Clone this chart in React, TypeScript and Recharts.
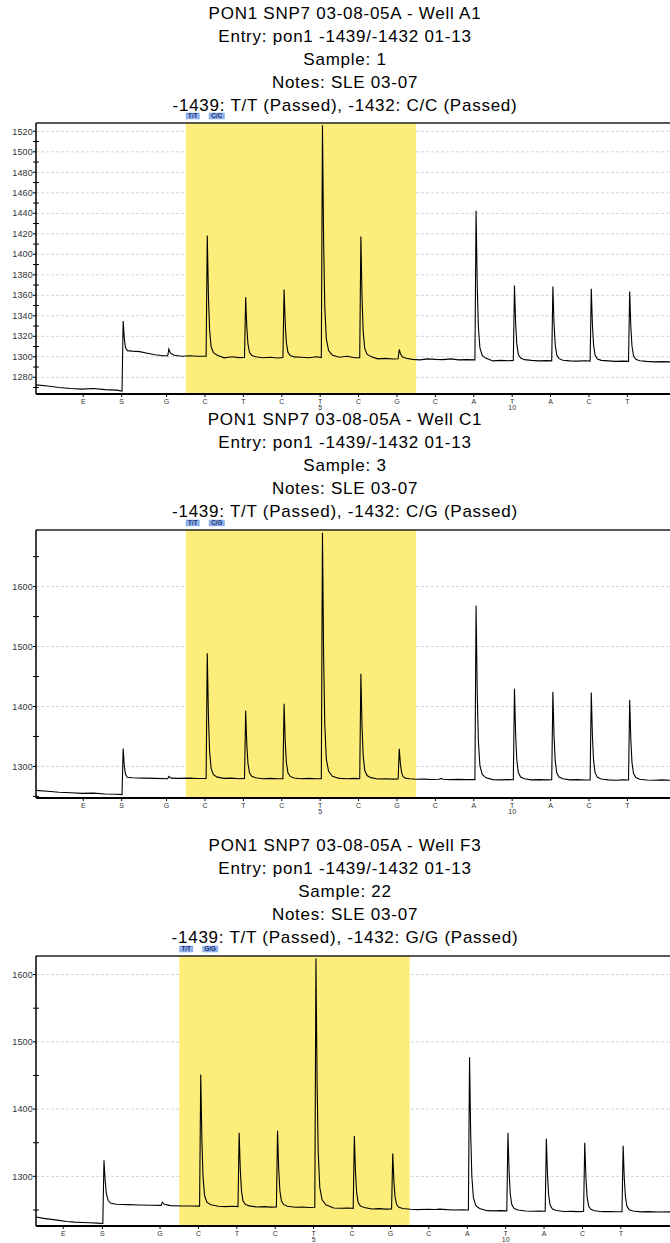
import React from 'react';
import { LineChart, Line, XAxis, YAxis, CartesianGrid, ReferenceArea, ReferenceLine } from 'recharts';

const FONT = '"Liberation Sans", Arial, Helvetica, sans-serif';
const YELLOW = '#fdee7c';

// dispensation order and numbering
const dispensations = ['E', 'S', 'G', 'C', 'T', 'C', 'T', 'C', 'G', 'C', 'A', 'T', 'A', 'C', 'T'];
const dispensationNumbers = ['', '', '', '', '', '', '5', '', '', '', '', '10', '', '', ''];

// dispensation times (x axis, in dispensation-slot units)
const ticksA = [1.23, 2.23, 3.4, 4.4, 5.4, 6.4, 7.4, 8.4, 9.4, 10.4, 11.4, 12.4, 13.4, 14.4, 15.4];
const ticksB = [0.71, 1.73, 3.23, 4.23, 5.23, 6.23, 7.23, 8.23, 9.23, 10.23, 11.23, 12.23, 13.23, 14.23, 15.23];

// titles
const titlesA1 = ['PON1 SNP7 03-08-05A - Well A1', 'Entry: pon1 -1439/-1432 01-13', 'Sample: 1', 'Notes: SLE 03-07', '-1439: T/T (Passed), -1432: C/C (Passed)'];
const titlesC1 = ['PON1 SNP7 03-08-05A - Well C1', 'Entry: pon1 -1439/-1432 01-13', 'Sample: 3', 'Notes: SLE 03-07', '-1439: T/T (Passed), -1432: C/G (Passed)'];
const titlesF3 = ['PON1 SNP7 03-08-05A - Well F3', 'Entry: pon1 -1439/-1432 01-13', 'Sample: 22', 'Notes: SLE 03-07', '-1439: T/T (Passed), -1432: G/G (Passed)'];

const tagsA1 = ['T/T', 'C/C'];
const tagsC1 = ['T/T', 'C/G'];
const tagsF3 = ['T/T', 'G/G'];

// y ticks
const majorA1 = [1280, 1300, 1320, 1340, 1360, 1380, 1400, 1420, 1440, 1460, 1480, 1500, 1520];
const minorA1 = [1270, 1290, 1310, 1330, 1350, 1370, 1390, 1410, 1430, 1450, 1470, 1490, 1510];
const majorC1 = [1300, 1400, 1500, 1600];
const minorC1 = [1250, 1350, 1450, 1550, 1650];
const majorF3 = [1300, 1400, 1500, 1600];
const minorF3 = [1250, 1350, 1450, 1550];

// traces [time, signal]
const traceA1 = [
  [0, 1272.6], [0.3, 1271.5], [0.6, 1270], [0.9, 1269], [1.2, 1268.5], [1.5, 1269], [1.8, 1268], [2.1, 1267.5],
  [2.24, 1266.5], [2.27, 1335], [2.3, 1318], [2.33, 1309], [2.38, 1306], [2.5, 1305.5], [2.7, 1305], [2.9, 1303.5],
  [3.1, 1302], [3.3, 1301], [3.43, 1301], [3.46, 1307.5], [3.5, 1303.5], [3.6, 1301.5], [3.8, 1300.5], [4.0, 1301],
  [4.2, 1300.5], [4.43, 1300.5], [4.46, 1418.4], [4.49, 1359.5], [4.52, 1326.5], [4.56, 1310], [4.62, 1304], [4.72, 1301.5],
  [4.9, 1299], [5.1, 1300], [5.3, 1299.2], [5.43, 1299.5], [5.46, 1358.2], [5.49, 1328.8], [5.52, 1312.4], [5.56, 1304.2],
  [5.62, 1301.3], [5.72, 1300.1], [5.9, 1299], [6.1, 1299.6], [6.3, 1298.8], [6.43, 1299.2], [6.46, 1365.7], [6.49, 1332.5],
  [6.52, 1313.8], [6.56, 1304.5], [6.62, 1301.2], [6.72, 1299.9], [6.9, 1299.5], [7.1, 1299], [7.3, 1300], [7.43, 1299.3],
  [7.46, 1525.9], [7.49, 1412.6], [7.52, 1349.2], [7.56, 1317.4], [7.62, 1306.1], [7.72, 1301.6], [7.9, 1299.5], [8.1, 1300.5],
  [8.3, 1299], [8.43, 1299], [8.46, 1417.4], [8.49, 1358.2], [8.52, 1325], [8.56, 1308.5], [8.62, 1302.6], [8.72, 1300.2],
  [8.9, 1298], [9.1, 1298.5], [9.3, 1297.8], [9.43, 1298], [9.46, 1307.1], [9.49, 1303], [9.54, 1300], [9.64, 1298.5],
  [9.8, 1297.5], [10.0, 1297], [10.2, 1298], [10.4, 1297.5], [10.6, 1297.2], [10.8, 1298], [11.0, 1297], [11.2, 1297.2],
  [11.43, 1297], [11.46, 1442.5], [11.49, 1369.8], [11.52, 1329], [11.56, 1308.6], [11.62, 1301.4], [11.72, 1298.5], [11.9, 1296],
  [12.1, 1296.5], [12.3, 1296.2], [12.43, 1296.5], [12.46, 1369.6], [12.49, 1333], [12.52, 1312.6], [12.56, 1302.3], [12.62, 1298.7],
  [12.72, 1297.2], [12.9, 1296.5], [13.1, 1296], [13.3, 1296.3], [13.43, 1296], [13.46, 1368.6], [13.49, 1332.3], [13.52, 1312],
  [13.56, 1301.8], [13.62, 1298.2], [13.72, 1296.7], [13.9, 1296], [14.1, 1295.8], [14.3, 1296.2], [14.43, 1295.8], [14.46, 1366.4],
  [14.49, 1331.1], [14.52, 1311.3], [14.56, 1301.4], [14.62, 1297.9], [14.72, 1296.5], [14.9, 1296], [15.1, 1295.5], [15.3, 1295.8],
  [15.43, 1295.5], [15.46, 1363.7], [15.49, 1329.6], [15.52, 1310.5], [15.56, 1301], [15.62, 1297.5], [15.72, 1296.2], [15.9, 1295.5],
  [16.1, 1295], [16.3, 1295.3], [16.51, 1295],
];

const traceC1 = [
  [0, 1260], [0.3, 1258.5], [0.6, 1257], [0.9, 1256], [1.2, 1255], [1.5, 1255.5], [1.8, 1254], [2.1, 1253.5],
  [2.24, 1253], [2.27, 1330], [2.3, 1300], [2.33, 1287], [2.38, 1282], [2.5, 1281], [2.8, 1280.5], [3.1, 1280],
  [3.43, 1279.5], [3.46, 1283.3], [3.52, 1280.5], [3.7, 1280], [4.0, 1280.5], [4.2, 1279.8], [4.43, 1280], [4.46, 1489],
  [4.49, 1384.5], [4.52, 1326], [4.56, 1296.7], [4.62, 1286.3], [4.72, 1282.1], [4.9, 1280], [5.1, 1280.5], [5.3, 1279.5],
  [5.43, 1280], [5.46, 1392.8], [5.49, 1336.4], [5.52, 1304.8], [5.56, 1289], [5.62, 1283.4], [5.72, 1281.1], [5.9, 1279.5],
  [6.1, 1280], [6.3, 1279.3], [6.43, 1279.5], [6.46, 1404.5], [6.49, 1342], [6.52, 1307], [6.56, 1289.5], [6.62, 1283.3],
  [6.72, 1280.8], [6.9, 1279.5], [7.1, 1280], [7.3, 1279.5], [7.43, 1279.5], [7.46, 1690], [7.49, 1484.8], [7.52, 1369.8],
  [7.56, 1312.3], [7.62, 1291.8], [7.72, 1283.6], [7.9, 1280], [8.1, 1279.5], [8.3, 1280], [8.43, 1279.5], [8.46, 1454.5],
  [8.49, 1367], [8.52, 1318], [8.56, 1293.5], [8.62, 1284.8], [8.72, 1281.3], [8.9, 1279], [9.1, 1279.5], [9.3, 1278.8],
  [9.43, 1279], [9.46, 1329.5], [9.49, 1304.3], [9.52, 1290.1], [9.56, 1283], [9.62, 1280.5], [9.72, 1279.5], [9.9, 1278.5],
  [10.1, 1278.8], [10.3, 1278.2], [10.5, 1278.5], [10.55, 1280], [10.6, 1278.5], [10.8, 1278], [11.0, 1278.3], [11.2, 1278],
  [11.43, 1278], [11.46, 1568.3], [11.49, 1423.2], [11.52, 1341.9], [11.56, 1301.2], [11.62, 1286.7], [11.72, 1280.9], [11.9, 1278],
  [12.1, 1277.5], [12.3, 1278], [12.43, 1277.8], [12.46, 1429.5], [12.49, 1353.7], [12.52, 1311.2], [12.56, 1289.9], [12.62, 1282.4],
  [12.72, 1279.3], [12.9, 1277.5], [13.1, 1278], [13.3, 1277.5], [13.43, 1277.8], [13.46, 1424.5], [13.49, 1351.2], [13.52, 1310.1],
  [13.56, 1289.5], [13.62, 1282.2], [13.72, 1279.3], [13.9, 1277.5], [14.1, 1278], [14.3, 1277.3], [14.43, 1277.5], [14.46, 1423.3],
  [14.49, 1350.4], [14.52, 1309.6], [14.56, 1289.2], [14.62, 1281.9], [14.72, 1279], [14.9, 1277.5], [15.1, 1277], [15.3, 1277.5],
  [15.43, 1277.3], [15.46, 1411.2], [15.49, 1344.3], [15.52, 1306.8], [15.56, 1288], [15.62, 1281.3], [15.72, 1278.6], [15.9, 1277.3],
  [16.1, 1277], [16.3, 1277.5], [16.51, 1277],
];

const traceF3 = [
  [0, 1239.5], [0.2, 1237.5], [0.4, 1236], [0.6, 1234.5], [0.8, 1233], [1.0, 1232], [1.2, 1231.5], [1.4, 1231],
  [1.6, 1230.5], [1.74, 1230], [1.77, 1324], [1.8, 1295], [1.83, 1275], [1.88, 1264], [1.95, 1260], [2.1, 1258.5],
  [2.4, 1258], [2.7, 1257.5], [3.0, 1257], [3.26, 1256.8], [3.29, 1261.6], [3.34, 1258.5], [3.5, 1256.5], [3.8, 1256],
  [4.0, 1256], [4.26, 1255.8], [4.29, 1451.5], [4.32, 1353.7], [4.35, 1298.9], [4.39, 1271.5], [4.45, 1261.7], [4.55, 1257.8],
  [4.75, 1255.5], [4.95, 1255], [5.1, 1255.5], [5.26, 1255], [5.29, 1364.8], [5.32, 1309.9], [5.35, 1279.2], [5.39, 1263.8],
  [5.45, 1258.3], [5.55, 1256.1], [5.75, 1254.5], [5.95, 1255], [6.1, 1254.3], [6.26, 1254.5], [6.29, 1367.8], [6.32, 1311.2],
  [6.35, 1279.4], [6.39, 1263.6], [6.45, 1257.9], [6.55, 1255.6], [6.75, 1254], [6.95, 1254.5], [7.1, 1253.8], [7.26, 1254],
  [7.29, 1623.9], [7.32, 1439], [7.35, 1335.4], [7.39, 1283.6], [7.45, 1265.1], [7.55, 1257.7], [7.75, 1253], [7.95, 1252.5],
  [8.1, 1253], [8.26, 1252.5], [8.29, 1359.8], [8.32, 1306.2], [8.35, 1276.1], [8.39, 1261.1], [8.45, 1255.7], [8.55, 1253.6],
  [8.75, 1251.5], [8.95, 1252], [9.1, 1251.3], [9.26, 1251.5], [9.29, 1334], [9.32, 1292.8], [9.35, 1269.7], [9.39, 1258.1],
  [9.45, 1254], [9.55, 1252.3], [9.75, 1251], [9.95, 1250.5], [10.2, 1251], [10.4, 1250.7], [10.5, 1251.3], [10.7, 1250.5],
  [10.9, 1250], [11.1, 1250.2], [11.26, 1250], [11.29, 1477], [11.32, 1363.5], [11.35, 1299.9], [11.39, 1268.2], [11.45, 1256.8],
  [11.55, 1252.3], [11.75, 1249], [11.95, 1248.7], [12.1, 1249], [12.26, 1248.7], [12.29, 1364.8], [12.32, 1306.8], [12.35, 1274.2],
  [12.39, 1258], [12.45, 1252.2], [12.55, 1249.9], [12.75, 1248.5], [12.95, 1248.2], [13.1, 1248.5], [13.26, 1248.2], [13.29, 1355.9],
  [13.32, 1302.1], [13.35, 1271.9], [13.39, 1256.8], [13.45, 1251.4], [13.55, 1249.3], [13.75, 1247.8], [13.95, 1248], [14.1, 1247.5],
  [14.26, 1247.8], [14.29, 1349.9], [14.32, 1298.9], [14.35, 1270.3], [14.39, 1256], [14.45, 1250.9], [14.55, 1248.8], [14.75, 1247.5],
  [14.95, 1247.8], [15.1, 1247.3], [15.26, 1247.5], [15.29, 1345.4], [15.32, 1296.5], [15.35, 1269], [15.39, 1255.3], [15.45, 1250.4],
  [15.55, 1248.5], [15.75, 1247.2], [15.95, 1247.5], [16.2, 1247], [16.51, 1247.2],
];

// yellow analysis window (x range)
const bandA = [3.9, 9.9];
const bandB = [3.73, 9.73];

const panels = [
  { titles: titlesA1, tags: tagsA1, trace: traceA1, ticks: ticksA, band: bandA, yDomain: [1263.7, 1528.1], major: majorA1, minor: minorA1, titleTop: 5.5, chartTop: 109, chartH: 305 },
  { titles: titlesC1, tags: tagsC1, trace: traceC1, ticks: ticksA, band: bandA, yDomain: [1247.3, 1694.5], major: majorC1, minor: minorC1, titleTop: 411.5, chartTop: 516, chartH: 302 },
  { titles: titlesF3, tags: tagsF3, trace: traceF3, ticks: ticksB, band: bandB, yDomain: [1226.2, 1627.6], major: majorF3, minor: minorF3, titleTop: 837.5, chartTop: 942, chartH: 304 },
];

const YTick = (props: any) => {
  const { x, y, payload, majors } = props;
  const isMajor = majors.includes(payload.value);
  return (
    <g>
      <line x1={x - 3} x2={isMajor ? x : x + 3} y1={y} y2={y} stroke="#000" strokeWidth={1} />
      {isMajor && (
        <text x={x - 3} y={y} dy={3.2} textAnchor="end" fontSize={9} letterSpacing={0.2} fill="#333" fontFamily={FONT}>
          {payload.value}
        </text>
      )}
    </g>
  );
};

const XTick = (props: any) => {
  const { x, y, index } = props;
  return (
    <g>
      <text x={x} y={y} dy={5.3} textAnchor="middle" fontSize={7} fill="#333" fontFamily={FONT}>
        {dispensations[index]}
      </text>
      {dispensationNumbers[index] && (
        <text x={x} y={y} dy={11.2} textAnchor="middle" fontSize={7} fill="#333" fontFamily={FONT}>
          {dispensationNumbers[index]}
        </text>
      )}
    </g>
  );
};

const Tags = (props: any) => {
  const { viewBox, tags } = props;
  if (!viewBox) return null;
  const x0 = viewBox.x;
  const y0 = viewBox.y - 10.3;
  const widths = [14, 16];
  const offsets = [0, 23];
  return (
    <g>
      {tags.map((t: string, i: number) => (
        <g key={t + i}>
          <rect x={x0 + offsets[i]} y={y0} width={widths[i]} height={6.6} fill="#8fb2ef" />
          <text x={x0 + offsets[i] + widths[i] / 2} y={y0 + 5.4} textAnchor="middle" fontSize={6.3} fontWeight="bold" fill="#1c2f6e" fontFamily={FONT}>
            {t}
          </text>
        </g>
      ))}
    </g>
  );
};

const Panel = ({ p }: { p: any }) => {
  const data = p.trace.map((d: number[]) => ({ t: d[0], v: d[1] }));
  const allTicks = [...p.major, ...p.minor].filter((v: number) => v >= p.yDomain[0] && v <= p.yDomain[1]).sort((a: number, b: number) => a - b);
  return (
    <>
      {p.titles.map((line: string, i: number) => (
        <div
          key={i}
          style={{
            position: 'absolute',
            left: 0,
            width: 690,
            top: p.titleTop + i * 23,
            height: 15,
            lineHeight: '15px',
            textAlign: 'center',
            fontFamily: FONT,
            fontSize: 17,
            letterSpacing: 0.75,
            color: '#000',
            whiteSpace: 'nowrap',
          }}
        >
          {line}
        </div>
      ))}
      <div style={{ position: 'absolute', left: 0, top: p.chartTop }}>
        <LineChart width={670} height={p.chartH} data={data} margin={{ top: 14, right: 0, bottom: 0, left: 0 }}>
          <CartesianGrid vertical={false} horizontalValues={p.major} stroke="#d4d4d4" strokeDasharray="3 2" />
          <ReferenceArea
            x1={p.band[0]}
            x2={p.band[1]}
            fill={YELLOW}
            fillOpacity={1}
            stroke="none"
            label={(lp: any) => <Tags viewBox={lp.viewBox} tags={p.tags} />}
          />
          <XAxis
            type="number"
            dataKey="t"
            domain={[0, 16.51]}
            ticks={p.ticks}
            interval={0}
            height={20}
            tickSize={3}
            tickMargin={2}
            tickLine={{ stroke: '#000', strokeWidth: 1 }}
            axisLine={{ stroke: '#000', strokeWidth: 2 }}
            tick={(tp: any) => <XTick {...tp} />}
            allowDataOverflow
          />
          <YAxis
            type="number"
            domain={p.yDomain}
            ticks={allTicks}
            interval={0}
            width={36}
            tickSize={0}
            tickMargin={0}
            tickLine={false}
            axisLine={{ stroke: '#000', strokeWidth: 1.5 }}
            tick={(tp: any) => <YTick {...tp} majors={p.major} />}
            allowDataOverflow
          />
          <ReferenceLine y={p.yDomain[1]} stroke="#222" strokeWidth={1.5} />
          <Line type="linear" dataKey="v" stroke="#000" strokeWidth={1.1} dot={false} isAnimationActive={false} />
        </LineChart>
      </div>
    </>
  );
};

export default function App() {
  return (
    <div style={{ position: 'absolute', left: 0, top: 0, width: 670, height: 1243, overflow: 'hidden', background: '#fff' }}>
      {panels.map((p, i) => (
        <Panel key={i} p={p} />
      ))}
    </div>
  );
}
